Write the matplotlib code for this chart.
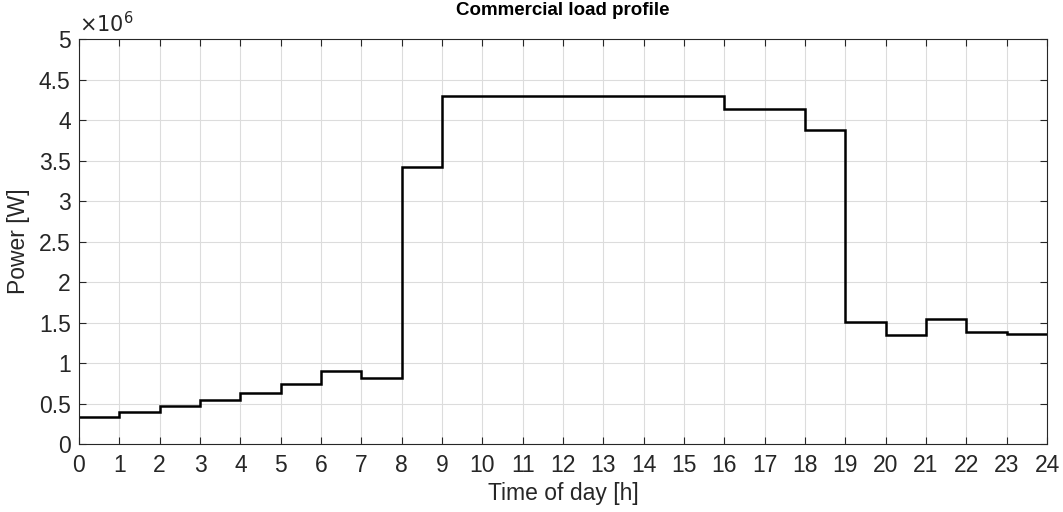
import numpy as np
import matplotlib.pyplot as plt
from matplotlib.ticker import FuncFormatter, MultipleLocator

plt.rcParams['font.family'] = ['Liberation Sans', 'DejaVu Sans']

# hourly load, W
hours = np.arange(0, 25)
power = np.array([0.33, 0.40, 0.47, 0.54, 0.63, 0.74, 0.90, 0.82,
                  3.42, 4.30, 4.30, 4.30, 4.30, 4.30, 4.30, 4.30,
                  4.135, 4.14, 3.875, 1.51, 1.34, 1.545, 1.38, 1.36]) * 1e6

txt = '#262626'

fig = plt.figure(figsize=(10.63, 5.12), dpi=100)
ax = fig.add_axes([0.0743, 0.1328, 0.9107, 0.791])

ax.stairs(power, hours, color='black', linewidth=1.8, baseline=None)

ax.set_xlim(0, 24)
ax.set_ylim(0, 5e6)
ax.xaxis.set_major_locator(MultipleLocator(1))
ax.yaxis.set_major_locator(MultipleLocator(0.5e6))
ax.yaxis.set_major_formatter(FuncFormatter(lambda v, p: f'{v / 1e6:g}'))

ax.grid(True, color='#dcdcdc', linewidth=0.8)
ax.set_axisbelow(True)
ax.tick_params(direction='in', top=True, right=True, length=5,
               labelsize=16.5, colors=txt, width=0.8)
ax.tick_params(axis='x', pad=7)
ax.tick_params(axis='y', pad=6)
for s in ax.spines.values():
    s.set_color(txt)
    s.set_linewidth(0.8)

ax.set_xlabel('Time of day [h]', fontsize=16.5, color=txt, labelpad=4)
ax.set_ylabel('Power [W]', fontsize=16.5, color=txt, labelpad=6)
ax.set_title('Commercial load profile', fontsize=13.5, fontweight='bold',
             color='black', pad=17)
ax.text(0.0, 1.006, r'$\times10^{6}$', transform=ax.transAxes,
        fontsize=15, color=txt, ha='left', va='bottom',
        math_fontfamily='dejavusans')

fig.savefig('out.png', dpi=100)
